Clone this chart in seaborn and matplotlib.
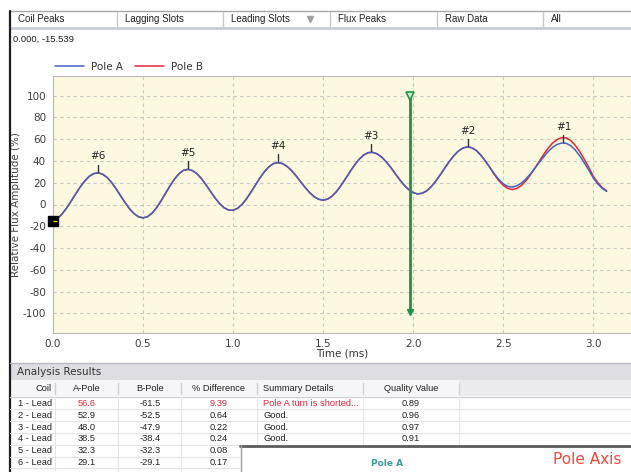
import numpy as np
import pandas as pd
import seaborn as sns
import matplotlib
matplotlib.use("Agg")
from matplotlib import pyplot as plt
from matplotlib.patches import Rectangle
from matplotlib.ticker import MultipleLocator, FormatStrFormatter

# ---- data ----
time_ms = np.round(np.arange(124) * 0.025, 3)  # sample grid, 0.000 .. 3.075 ms

pole_a = [-15.4, -12.9, -8.8, -3.4, 2.9, 9.5, 15.8, 21.3, 25.7, 28.3,
          29.1, 27.9, 24.9, 20.3, 14.5, 8.1, 1.8, -3.9, -8.4, -11.3,
          -12.3, -11.2, -8.0, -3.0, 3.3, 10.3, 17.2, 23.4, 28.3, 31.4,
          32.3, 31.1, 28.2, 23.6, 18.0, 11.9, 6.0, 0.9, -3.0, -5.1,
          -5.3, -3.5, 0.1, 5.3, 11.5, 18.1, 24.6, 30.3, 34.8, 37.6,
          38.5, 37.5, 35.0, 31.1, 26.3, 21.0, 15.7, 11.0, 7.2, 4.8,
          4.0, 4.9, 7.7, 12.0, 17.6, 23.8, 30.2, 36.3, 41.5, 45.4,
          47.6, 47.9, 46.5, 43.6, 39.3, 34.2, 28.5, 22.9, 17.8, 13.7,
          10.9, 9.7, 10.3, 12.5, 16.3, 21.3, 27.1, 33.3, 39.3, 44.6,
          48.9, 51.7, 52.9, 52.2, 49.7, 45.5, 40.2, 34.3, 28.4, 23.2,
          19.1, 16.6, 16.0, 17.1, 19.5, 23.2, 27.8, 33.0, 38.5, 43.8,
          48.6, 52.5, 55.2, 56.5, 56.2, 54.1, 50.1, 44.8, 38.5, 31.8,
          24.5, 19.0, 14.9, 12.0]

# pole B follows A until the last two cycles
pole_b = pole_a[:98] + [27.7, 22.1, 17.7, 14.8, 13.8, 14.7, 17.3, 21.5, 26.9, 33.1,
                        39.6, 46.0, 51.8, 56.5, 59.7, 61.4, 61.1, 58.8, 54.4, 48.6,
                        41.7, 34.3, 26.0, 20.2, 15.6, 12.5]

peak_names = ["#1", "#2", "#3", "#4", "#5", "#6"]
peak_times = [2.835, 2.304, 1.767, 1.248, 0.748, 0.248]

cursor_t, cursor_v = 0.0, -15.539
marker_t = 1.98

tabs = ["Coil Peaks", "Lagging Slots", "Leading Slots", "Flux Peaks", "Raw Data", "All"]

coils = ["1 - Lead", "2 - Lead", "3 - Lead", "4 - Lead", "5 - Lead", "6 - Lead"]
a_pole = [56.6, 52.9, 48.0, 38.5, 32.3, 29.1]
b_pole = [-61.5, -52.5, -47.9, -38.4, -32.3, -29.1]
pct_diff = [9.39, 0.64, 0.22, 0.24, 0.08, 0.17]
summary = ["Pole A turn is shorted...", "Good.", "Good.", "Good.", "", ""]
quality = [0.89, 0.96, 0.97, 0.91, None, None]

df = pd.DataFrame({"t": time_ms, "A": pole_a, "B": pole_b})

W, H = 631, 472
BLUE = "#4262bc"
RED = "#e0283a"
GREEN = "#1f9346"

sns.set_theme(style="white")
plt.rcParams["font.family"] = ["DejaVu Sans"]
plt.rcParams["axes.unicode_minus"] = False

fig = plt.figure(figsize=(W / 100, H / 100), dpi=100)
fig.patch.set_facecolor("white")

# main chart: pixels x 53..631, y 76..333
ax = fig.add_axes([53 / W, 1 - 333 / H, (W - 53) / W, (333 - 76) / H])
ax.set_facecolor("#fcf9e0")

sns.lineplot(data=df, x="t", y="B", color=RED, lw=1.1, ax=ax, label="Pole B")
sns.lineplot(data=df, x="t", y="A", color=BLUE, lw=1.1, ax=ax, label="Pole A")

# peak ticks and names
for name, pt in zip(peak_names, peak_times):
    pv = a_pole[peak_names.index(name)]
    ax.plot([pt, pt], [pv + 1.0, pv + 7.5], color="#333333", lw=1.0)
    ax.text(pt, pv + 15, name, ha="center", va="center", fontsize=7.5, color="#222222")

# green time marker
ax.plot([marker_t, marker_t], [-99, 99], color=GREEN, lw=2)
ax.plot([marker_t], [99.5], marker="v", ms=5.5, mfc="#d6efd6", mec=GREEN, mew=1.2)
ax.plot([marker_t], [-98.5], marker="v", ms=4.5, color=GREEN)

# cursor square
ax.plot([cursor_t], [cursor_v], marker="s", ms=6.5, color="black", clip_on=False, zorder=5)
ax.plot([cursor_t + 0.012], [cursor_v], marker="_", ms=3, mew=1, color="#e8e000",
        clip_on=False, zorder=6)

ax.set_xlim(0, 3.21)
ax.set_ylim(-118, 118)
ax.xaxis.set_major_locator(MultipleLocator(0.5))
ax.xaxis.set_minor_locator(MultipleLocator(0.1))
ax.xaxis.set_major_formatter(FormatStrFormatter("%.1f"))
ax.yaxis.set_major_locator(MultipleLocator(20))
ax.yaxis.set_minor_locator(MultipleLocator(5))
ax.set_yticks(np.arange(-100, 101, 20))
ax.grid(True, which="major", color="#c8c8c2", ls=(0, (3, 3)), lw=0.8)
ax.tick_params(which="both", direction="in", color="#b4b4b4", labelsize=7.5,
               labelcolor="#3c3c3c")
ax.tick_params(axis="x", which="major", length=5, pad=4)
ax.tick_params(axis="x", which="minor", length=5)
ax.tick_params(axis="y", which="major", length=4, pad=5)
ax.tick_params(axis="y", which="minor", length=3)
for side in ["left", "top", "bottom"]:
    ax.spines[side].set_color("#b8b8b8")
    ax.spines[side].set_linewidth(0.8)
ax.spines["right"].set_visible(False)
ax.set_xlabel("Time (ms)", fontsize=7.5, color="#333333", labelpad=0)
ax.set_ylabel("Relative Flux Amplitude (%)", fontsize=7.5, color="#444444", labelpad=1.5)

handles, labels = ax.get_legend_handles_labels()
order = [labels.index("Pole A"), labels.index("Pole B")]
ax.legend([handles[i] for i in order], [labels[i] for i in order],
          loc="center left", bbox_to_anchor=(55 / W, 1 - 67 / H),
          bbox_transform=fig.transFigure, ncol=2, frameon=False, fontsize=7.5,
          borderpad=0, borderaxespad=0, handlelength=2.8, handletextpad=0.7,
          columnspacing=1.1, labelcolor="#333333")

# ---- surrounding window parts, in pixel coordinates ----
ui = fig.add_axes([0, 0, 1, 1])
ui.set_xlim(0, W)
ui.set_ylim(H, 0)
ui.axis("off")
ui.set_zorder(3)

# tab strip
ui.plot([10, W], [10.5, 10.5], color="#a8a8a8", lw=1)
ui.plot([10, W], [27.5, 27.5], color="#c6cedb", lw=2)
tab_x = [10, 117, 223, 330, 437, 543]
for i, name in enumerate(tabs):
    ui.text(tab_x[i] + 8, 19, name, fontsize=7, family="Liberation Sans",
            color="#222222", va="center")
    if i > 0:
        ui.plot([tab_x[i], tab_x[i]], [12, 26], color="#c8c8c8", lw=1)
ui.plot([310], [18.5], marker="v", ms=4, color="#a0a0a0")

ui.plot([9.5, 9.5], [11, H], color="#1e1e1e", lw=1.6)
ui.text(13, 39, f"{cursor_t:.3f}, {cursor_v:.3f}", fontsize=6.8,
        family="Liberation Sans", color="#222222", va="center")

# analysis results bar
ui.add_patch(Rectangle((10, 363), W - 10, 17, facecolor="#dddde2", edgecolor="none"))
ui.plot([10, W], [363, 363], color="#b8b8c0", lw=1)
ui.text(17, 372, "Analysis Results", fontsize=7.5, color="#333333", va="center")

# table header
ui.add_patch(Rectangle((10, 380), W - 10, 16, facecolor="#f6f6f8", edgecolor="none"))
ui.add_patch(Rectangle((459, 380), W - 459, 16, facecolor="#ececef", edgecolor="none"))
ui.plot([10, W], [396.5, 396.5], color="#cfcfd6", lw=1)
col_edges = [55, 118, 181, 257, 363, 459]
for cx in col_edges:
    ui.plot([cx, cx], [383, 394], color="#d0d0d0", lw=1)
    ui.plot([cx, cx], [397, H], color="#e6e6e6", lw=0.8)
head_y = 388.7
hf = dict(fontsize=6.7, family="Liberation Sans", color="#222222", va="center")
ui.text(52, head_y, "Coil", ha="right", **hf)
ui.text(87, head_y, "A-Pole", ha="center", **hf)
ui.text(150, head_y, "B-Pole", ha="center", **hf)
ui.text(219, head_y, "% Difference", ha="center", **hf)
ui.text(263, head_y, "Summary Details", ha="left", **hf)
ui.text(411, head_y, "Quality Value", ha="center", **hf)

# table rows
for i in range(len(coils)):
    ry = 403.5 + i * 11.8
    ui.plot([10, W], [ry + 5.9, ry + 5.9], color="#e4e4e4", lw=0.8)
    bad = summary[i].startswith("Pole A")
    hot = RED if bad else "#222222"
    ui.text(52, ry, coils[i], ha="right", **hf)
    ui.text(87, ry, f"{a_pole[i]:.1f}", ha="center", **{**hf, "color": hot})
    ui.text(150, ry, f"{b_pole[i]:.1f}", ha="center", **hf)
    ui.text(219, ry, f"{pct_diff[i]:.2f}", ha="center", **{**hf, "color": hot})
    ui.text(263, ry, summary[i], ha="left", **{**hf, "color": hot})
    if quality[i] is not None:
        ui.text(411, ry, f"{quality[i]:.2f}", ha="center", **hf)

# overlapping panel at the bottom right
ui.add_patch(Rectangle((240, 445), W - 240, H - 445, facecolor="white",
                       edgecolor="none", zorder=5))
ui.plot([240, W], [445.5, 445.5], color="#5c5c5c", lw=2, zorder=6)
ui.plot([240.5, 240.5], [445, H], color="#a0a0a0", lw=1, zorder=6)
ui.text(387, 463, "Pole A", fontsize=6.5, fontweight="bold", color="#3f9c9c",
        ha="center", va="center", zorder=7)
ui.text(587, 460, "Pole Axis", fontsize=11, color="#f04a38", ha="center",
        va="center", zorder=7)

fig.savefig("out.png", dpi=100)
